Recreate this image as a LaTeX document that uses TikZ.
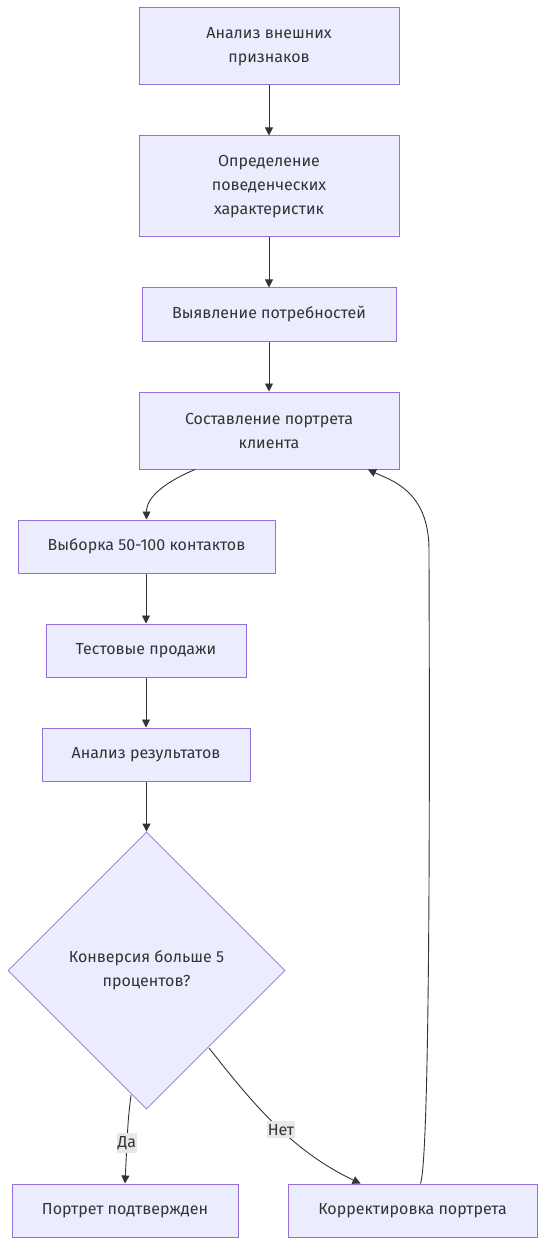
\documentclass[tikz,border=0pt]{standalone}
\usepackage{fontspec}
\setmainfont{Fira Sans}
\usetikzlibrary{shapes.geometric,arrows.meta}
\definecolor{nodefill}{HTML}{ECECFF}
\definecolor{nodeline}{HTML}{9370DB}
\definecolor{edge}{HTML}{333333}
\definecolor{lblbg}{HTML}{E8E8E8}
\definecolor{txt}{HTML}{333333}
\begin{document}
\begin{tikzpicture}[x=1pt,y=-1pt,
  box/.style={draw=nodeline,fill=nodefill,line width=1pt,inner sep=0pt,
    text=txt,font=\fontsize{16}{24}\selectfont,align=center},
  dia/.style={draw=nodeline,fill=nodefill,line width=0.8pt,diamond,inner sep=0pt,
    minimum width=277pt,minimum height=277pt,aspect=1,text=txt,
    font=\fontsize{16}{24}\selectfont,align=center},
  conn/.style={draw=edge,line width=0.9pt,-{Triangle[length=8pt,width=8pt]}},
  lbl/.style={fill=lblbg,text=txt,font=\fontsize{16}{18}\selectfont,inner xsep=1pt,inner ysep=3pt}]
\useasboundingbox (0,0) rectangle (545,1246);
\node[box,minimum width=260pt,minimum height=77pt] (a) at (269,46.5) {Анализ внешних\\признаков};
\node[box,minimum width=260pt,minimum height=101pt] (b) at (269,186.5) {Определение\\поведенческих\\характеристик};
\node[box,minimum width=254pt,minimum height=53pt] (c) at (269,314.5) {Выявление потребностей};
\node[box,minimum width=260pt,minimum height=77pt] (d) at (269,430.5) {Составление портрета\\клиента};
\node[box,minimum width=257pt,minimum height=53pt] (e) at (146.5,546.5) {Выборка 50-100 контактов};
\node[box,minimum width=200pt,minimum height=53pt] (f) at (146,650.5) {Тестовые продажи};
\node[box,minimum width=208pt,minimum height=53pt] (g) at (146,754.5) {Анализ результатов};
\node[dia] (h) at (146.5,970.5) {Конверсия больше 5\\процентов?};
\node[box,minimum width=226pt,minimum height=53pt] (i) at (125,1210.5) {Портрет подтвержден};
\node[box,minimum width=249pt,minimum height=53pt] (j) at (412.5,1210.5) {Корректировка портрета};
\draw[conn] (a.south) -- (b.north);
\draw[conn] (b.south) -- (c.north);
\draw[conn] (c.south) -- (d.north);
\draw[conn] ([xshift=-74pt]d.south) .. controls (170,480) and (146.5,495) .. (e.north);
\draw[conn] (e.south -| f.north) -- (f.north);
\draw[conn] (f.south) -- (g.north);
\draw[conn] (g.south -| h.north) -- (h.north);
\coordinate (hy) at (131,1095);
\draw[conn] (hy) .. controls (128,1120) .. (i.north) node[lbl,pos=0.72] {Да};
\coordinate (hn) at (209,1048);
\draw[conn] (hn) .. controls (250,1100) and (290,1150) .. ([xshift=-52pt]j.north) node[lbl,pos=0.55] {Нет};
\draw[conn] ([xshift=8pt]j.north) .. controls (432,1150) and (429,600) .. (429,550) .. controls (429,490) and (390,480) .. ([xshift=99pt]d.south);
\end{tikzpicture}
\end{document}
